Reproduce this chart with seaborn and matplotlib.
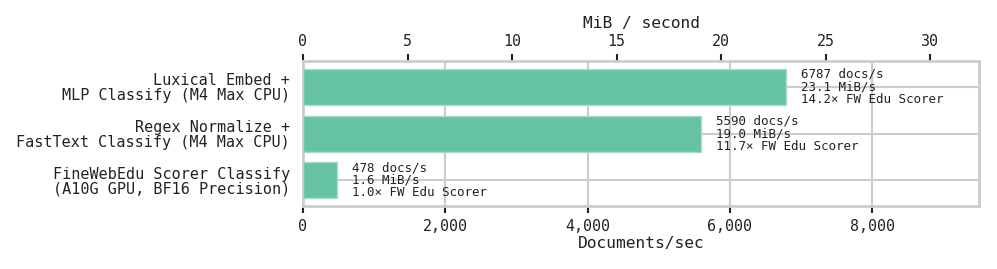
import matplotlib
matplotlib.use("Agg")
import matplotlib.pyplot as plt
import seaborn as sns
import pandas as pd
import numpy as np

categories = [
    "Luxical Embed +\nMLP Classify (M4 Max CPU)",
    "Regex Normalize +\nFastText Classify (M4 Max CPU)",
    "FineWebEdu Scorer Classify\n(A10G GPU, BF16 Precision)",
]
docs_per_sec = [6787, 5590, 478]
mib_per_sec = [23.1, 19.0, 1.6]
speedup = [14.2, 11.7, 1.0]
x_ticks = [0, 2000, 4000, 6000, 8000]
top_ticks = [0, 5, 10, 15, 20, 25, 30]

sns.set_theme(style="white")
plt.rcParams["font.family"] = ["DejaVu Sans Mono", "DejaVu Sans"]

df = pd.DataFrame({"cat": categories, "docs": docs_per_sec})
mib_per_doc = mib_per_sec[0] / docs_per_sec[0]

fig = plt.figure(figsize=(9.97, 2.69), dpi=100)
ax = fig.add_axes([0.3039, 0.234, 0.982 - 0.3039, 0.773 - 0.234])

grid_c = "#cccccc"
text_c = "#222222"

sns.barplot(data=df, y="cat", x="docs", orient="h", color="#66c2a5",
            saturation=1, width=0.77, edgecolor="#a8dcc9", linewidth=1,
            ax=ax, zorder=3)

ax.set_xlim(0, 9500)
ax.set_ylim(2.55, -0.55)
ax.set_xticks(x_ticks)
ax.set_xticklabels([f"{t:,}" for t in x_ticks], fontsize=10.8, color=text_c)
ax.set_yticks(range(len(categories)))
ax.set_yticklabels(categories, fontsize=10.9, color=text_c, linespacing=1.0)
ax.tick_params(axis="y", length=0, pad=9.5)
ax.tick_params(axis="x", bottom=True, length=5, width=1.5, color=text_c, pad=4)
ax.set_xlabel("Documents/sec", fontsize=11.7, color=text_c, labelpad=2)
ax.set_ylabel("")

ax.grid(True, axis="both", color=grid_c, linewidth=1.5, zorder=0)
ax.set_axisbelow(True)
for s in ax.spines.values():
    s.set_color(grid_c)
    s.set_linewidth(2)
    s.set_visible(True)

for i, (d, m, s) in enumerate(zip(docs_per_sec, mib_per_sec, speedup)):
    ax.annotate(f"{d} docs/s\n{m:.1f} MiB/s\n{s:.1f}\u00d7 FW Edu Scorer",
                xy=(d, i), xytext=(10.8, 0), textcoords="offset points",
                ha="left", va="center", fontsize=9, color=text_c,
                linespacing=0.95, zorder=5)

sec = ax.secondary_xaxis("top", functions=(lambda x: x * mib_per_doc,
                                           lambda x: x / mib_per_doc))
sec.set_xticks(top_ticks)
sec.set_xticklabels([str(t) for t in top_ticks], fontsize=10.8, color=text_c)
sec.tick_params(axis="x", length=5, width=1.5, color=text_c, pad=4)
sec.set_xlabel("MiB / second", fontsize=11.7, color=text_c, labelpad=4)
sec.spines["top"].set_visible(False)

fig.savefig("out.png", dpi=100)
